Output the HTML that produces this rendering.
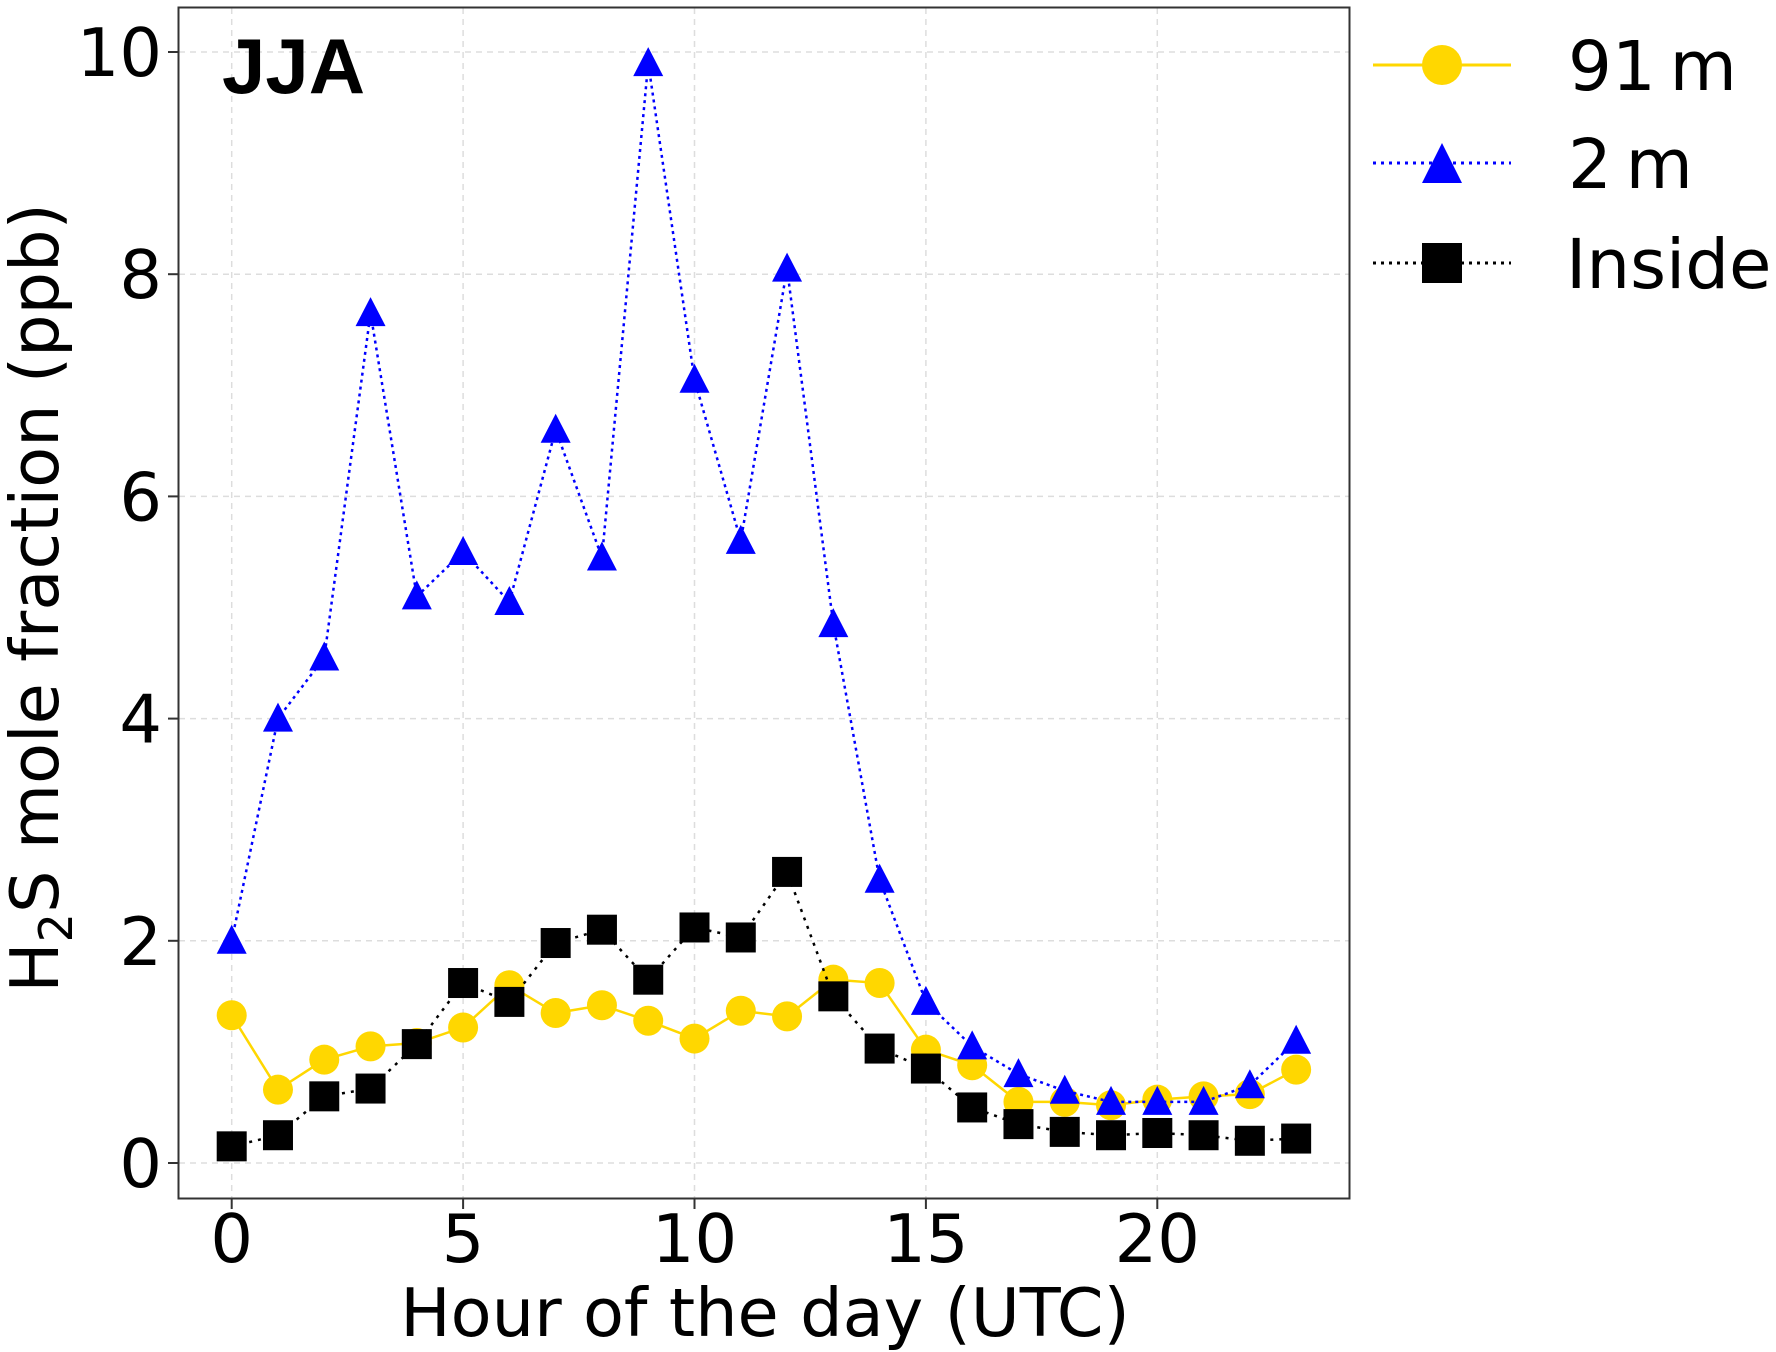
<!DOCTYPE html>
<html><head><meta charset="utf-8"><style>
html,body{margin:0;padding:0;background:#fff;}
svg{display:block;}
text{font-family:"DejaVu Sans","Liberation Sans",sans-serif;fill:#000;}
</style></head><body>
<svg id="chart" width="1776" height="1352" viewBox="0 0 1776 1352">
<g id="grid"></g>
<g id="series"></g>
<rect x="178.5" y="7.5" width="1171" height="1191" fill="none" stroke="#333" stroke-width="2"/>
<g id="ticks"></g>
<text x="222" y="93" font-weight="bold" font-size="78" style="font-family:'Liberation Sans',sans-serif">JJA</text>
<text x="765" y="1336" font-size="67" text-anchor="middle">Hour of the day (UTC)</text>
<text transform="translate(58,598) rotate(-90)" font-size="67" text-anchor="middle">H<tspan font-size="46" dy="14">2</tspan><tspan dy="-14">S  mole fraction (ppb)</tspan></text>
<g id="legend">
 <g>
  <line x1="1373" y1="65" x2="1511" y2="65" stroke="#FFD700" stroke-width="3"/>
  <circle cx="1442" cy="65" r="20" fill="#FFD700"/>
  <text x="1568" y="90" font-size="69">91&#8201;m</text>
 </g>
 <g>
  <line x1="1373" y1="163" x2="1511" y2="163" stroke="#0000FF" stroke-width="3" stroke-dasharray="3,5"/>
  <polygon points="1442,143 1462,183 1422,183" fill="#0000FF"/>
  <text x="1568" y="188" font-size="69">2&#8201;m</text>
 </g>
 <g>
  <line x1="1373" y1="263" x2="1511" y2="263" stroke="#000" stroke-width="3" stroke-dasharray="3,5"/>
  <rect x="1422" y="243" width="40" height="40" fill="#000"/>
  <text x="1566" y="288" font-size="69">Inside</text>
 </g>
</g>
</svg>
<script>
const hours = [0,1,2,3,4,5,6,7,8,9,10,11,12,13,14,15,16,17,18,19,20,21,22,23];
const v91m = [1.33,0.66,0.93,1.05,1.08,1.22,1.6,1.35,1.42,1.28,1.12,1.37,1.32,1.65,1.62,1.02,0.88,0.55,0.55,0.52,0.57,0.6,0.62,0.84];
const v2m = [2.0,4.0,4.55,7.65,5.1,5.5,5.05,6.6,5.45,9.9,7.05,5.6,8.05,4.85,2.55,1.45,1.05,0.8,0.65,0.55,0.55,0.55,0.7,1.1];
const vInside = [0.15,0.25,0.6,0.67,1.07,1.62,1.45,1.98,2.1,1.65,2.12,2.03,2.62,1.5,1.03,0.85,0.5,0.35,0.28,0.25,0.27,0.25,0.2,0.22];
const xTicks = [0,5,10,15,20];
const yTicks = [0,2,4,6,8,10];

const NS = 'http://www.w3.org/2000/svg';
function X(h){ return 231.7 + h*46.28; }
function Y(v){ return 1163 - v*111.1; }
function mk(tag, attrs, parent){ const e=document.createElementNS(NS,tag); for(const k in attrs) e.setAttribute(k,attrs[k]); parent.appendChild(e); return e; }
const grid=document.getElementById('grid'), ticks=document.getElementById('ticks'), series=document.getElementById('series');

xTicks.forEach(t=>{
  const g=mk('line',{x1:X(t),x2:X(t),y1:8,y2:1198,stroke:'#ddd','stroke-width':1.5,'stroke-dasharray':'6,5'},grid);
  
  
  const tk=mk('line',{x1:X(t),x2:X(t),y1:1199,y2:1209,stroke:'#333','stroke-width':2},ticks);
  
  
  const tl=mk('text',{x:X(t),y:1262,'font-size':67,'text-anchor':'middle'},ticks);
  tl.textContent=t;
  
  
});
yTicks.forEach(t=>{
  const g=mk('line',{x1:179,x2:1349,y1:Y(t),y2:Y(t),stroke:'#ddd','stroke-width':1.5,'stroke-dasharray':'6,5'},grid);
  
  
  const tk=mk('line',{x1:168,x2:178,y1:Y(t),y2:Y(t),stroke:'#333','stroke-width':2},ticks);
  
  
  const tl=mk('text',{x:162,y:Y(t)+24,'font-size':67,'text-anchor':'end'},ticks);
  tl.textContent=t;
  
  
});

function drawSeries(vals, color, dash, shape, name){
  const g=mk('g',{},series);
  
  
  const pts=vals.map((v,i)=>X(hours[i])+','+Y(v)).join(' ');
  const attrs={points:pts,fill:'none',stroke:color,'stroke-width':2.5};
  if(dash) attrs['stroke-dasharray']=dash;
  const pl=mk('polyline',attrs,g);
  
  
  vals.forEach((v,i)=>{
    const cx=X(hours[i]), cy=Y(v); let m;
    if(shape==='circle') m=mk('circle',{cx:cx,cy:cy,r:15,fill:color},g);
    else if(shape==='tri') m=mk('polygon',{points:`${cx},${cy-16} ${cx+15},${cy+13} ${cx-15},${cy+13}`,fill:color},g);
    else m=mk('rect',{x:cx-15,y:cy-15,width:30,height:30,fill:color},g);
    
    
  });
}
drawSeries(v91m,'#FFD700',null,'circle','series-91m');
drawSeries(v2m,'#0000FF','3,4','tri','series-2m');
drawSeries(vInside,'#000000','3,6','square','series-inside');
</script>
</body></html>
